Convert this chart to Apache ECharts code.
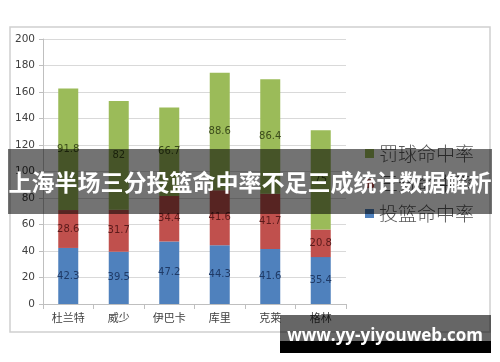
<!DOCTYPE html>
<html><head><meta charset="utf-8">
<script src="https://cdn.jsdelivr.net/npm/echarts@6/dist/echarts.min.js"></script>
<style>html,body{margin:0;padding:0;background:#fff}#c{width:500px;height:362px}</style>
</head><body><div id="c"></div>
<script>
var categories = ['杜兰特','威少','伊巴卡','库里','克莱','格林'];
var shooting = [42.3, 39.5, 47.2, 44.3, 41.6, 35.4];
var threePt = [28.6, 31.7, 34.4, 41.6, 41.7, 20.8];
var freeThrow = [91.8, 82, 66.7, 88.6, 86.4, 75];
var seriesNames = ['投篮命中率','三分命中率','罚球命中率'];
var yTicks = {min:0, max:200, interval:20};
var title = '上海半场三分投篮命中率不足三成统计数据解析';
var watermark = 'www.yy-yiyouweb.com';

var chart = echarts.init(document.getElementById('c'), null, {renderer:'canvas'});
function lbl(color){return {show:true, position:'inside', fontSize:10, color:color, fontFamily:'DejaVu Sans'};}
chart.setOption({
  animation:false,
  grid:{left:43, top:39, right:154, bottom:58},
  legend:{
    orient:'vertical', left:360, top:139, itemGap:11, itemWidth:9, itemHeight:9, icon:'rect',
    data:[seriesNames[2], seriesNames[1], seriesNames[0]],
    textStyle:{fontSize:19, color:'#595959', fontFamily:'Noto Sans CJK SC', fontWeight:300}
  },
  xAxis:{type:'category', data:categories,
    axisLine:{lineStyle:{color:'#bfbfbf'}},
    axisTick:{show:true, length:5, lineStyle:{color:'#bfbfbf'}},
    axisLabel:{fontSize:11, color:'#404040', fontFamily:'Noto Sans CJK SC', margin:8}},
  yAxis:{type:'value', min:yTicks.min, max:yTicks.max, interval:yTicks.interval,
    axisLine:{show:true, lineStyle:{color:'#bfbfbf'}},
    axisTick:{show:true, length:4, lineStyle:{color:'#bfbfbf'}},
    splitLine:{lineStyle:{color:'#d9d9d9'}},
    axisLabel:{fontSize:10.5, color:'#404040', fontFamily:'DejaVu Sans', margin:8}},
  series:[
    {name:seriesNames[0], type:'bar', stack:'a', data:shooting, barWidth:20, itemStyle:{color:'#4f81bd'}, label:lbl('#1f3a66')},
    {name:seriesNames[1], type:'bar', stack:'a', data:threePt, barWidth:20, itemStyle:{color:'#c0504d'}, label:lbl('#5a1a1a')},
    {name:seriesNames[2], type:'bar', stack:'a', data:freeThrow, barWidth:20, itemStyle:{color:'#9bbb59'}, label:lbl('#3a4a1a')}
  ],
  graphic:[
    {type:'rect', shape:{x:10, y:27, width:480, height:305}, style:{fill:'none', stroke:'#d0d0d0', lineWidth:1.5}, z:0},
    {type:'rect', shape:{x:8, y:149, width:484, height:65}, style:{fill:'rgba(0,0,0,0.55)'}, z:100},
    {type:'text', x:250, y:182, style:{text:title, fill:'#fff', fontSize:23, fontWeight:'bold', fontFamily:'Noto Sans CJK SC', align:'center', verticalAlign:'middle'}, z:101},
    {type:'rect', shape:{x:280, y:315, width:211, height:26}, style:{fill:'rgba(0,0,0,0.6)'}, z:100},
    {type:'rect', shape:{x:280, y:341, width:211, height:12}, style:{fill:'#000'}, z:100},
    {type:'text', x:385, y:336, style:{text:watermark, fill:'#fff', fontSize:17, fontWeight:'bold', fontFamily:'Open Sans', align:'center', verticalAlign:'middle'}, z:101}
  ]
});
</script></body></html>
